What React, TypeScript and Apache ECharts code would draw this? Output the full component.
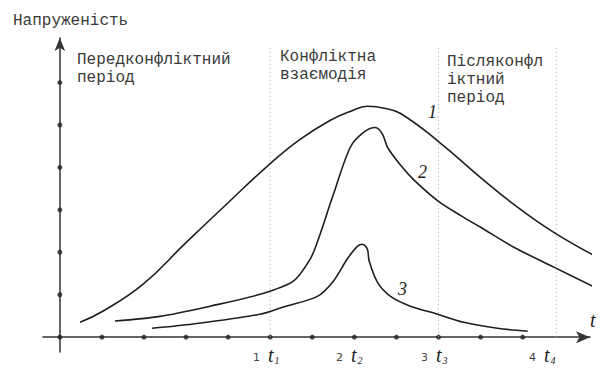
import React, { useEffect, useRef } from "react";
import * as echarts from "echarts";

// Curves in data units (x: time ticks, y: tension ticks)
const curve1: number[][] = [
  [0.48, 0.35], [1.02, 0.61], [1.98, 1.25], [2.98, 2.21], [3.98, 3.15],
  [5.0, 4.09], [5.71, 4.66], [6.43, 5.11], [6.9, 5.32], [7.31, 5.44],
  [7.74, 5.39], [8.1, 5.27], [9.0, 4.61], [10.0, 3.76], [10.79, 3.13],
  [11.74, 2.47], [12.86, 1.84],
];
const curve2: number[][] = [
  [1.31, 0.38], [2.38, 0.49], [3.57, 0.73], [4.76, 1.01], [5.55, 1.32],
  [5.95, 1.84], [6.12, 2.24], [6.5, 3.36], [6.9, 4.47], [7.21, 4.82],
  [7.5, 4.94], [7.67, 4.78], [7.79, 4.47], [8.1, 4.05], [8.4, 3.72],
  [9.0, 3.2], [9.52, 2.87], [10.0, 2.59], [10.79, 2.12], [11.74, 1.65],
  [12.67, 1.2],
];
const curve3: number[][] = [
  [2.19, 0.21], [3.17, 0.31], [4.76, 0.54], [5.31, 0.71], [6.12, 0.96],
  [6.5, 1.32], [6.83, 1.84], [7.07, 2.14], [7.19, 2.19], [7.31, 2.07],
  [7.35, 1.8], [7.55, 1.29], [7.86, 0.96], [8.33, 0.73], [8.98, 0.54],
  [9.6, 0.35], [10.4, 0.21], [11.12, 0.14],
];
const xTickValues = [0, 1, 2, 3, 4, 5, 6, 7, 8, 9, 10, 11];
const yTickValues = [1, 2, 3, 4, 5, 6];
const periodLines = [5, 9, 11.8];
const periodLineTop = 6.85;

const yAxisTitle = "Напруженість";
const periodTexts = [
  ["Передконфліктний", "період"],
  ["Конфліктна", "взаємодія"],
  ["Післяконфл", "іктний", "період"],
];
const curveNames = ["1", "2", "3"];
const pointNums = ["1", "2", "3", "4"];
const pointSubs = ["1", "2", "3", "4"];

export default function App() {
  const ref = useRef<HTMLDivElement>(null);
  useEffect(() => {
    if (!ref.current) return;
    const chart = echarts.init(ref.current, undefined, { renderer: "svg" });
    const ink = "#1e1e1e";
    const textInk = "#3a3a3a";
    const mono = "'Liberation Mono', monospace";
    const serif = "'Liberation Serif', serif";
    const curveLine = (data: number[][], smooth: number) => ({
      type: "line",
      data,
      smooth,
      showSymbol: false,
      clip: false,
      silent: true,
      lineStyle: { color: ink, width: 1.6 },
    });
    const periodPos = [
      { x: 77, y: 60 },
      { x: 280, y: 57 },
      { x: 447, y: 62 },
    ];
    const curveLabelPos = [
      { x: 428, y: 112 },
      { x: 418, y: 172 },
      { x: 398, y: 289 },
    ];
    const pointPos = [
      { n: 253, t: 268 },
      { n: 336, t: 351 },
      { n: 421, t: 436 },
      { n: 529, t: 544 },
    ];
    const graphics: any[] = [
      {
        type: "text",
        x: 13,
        y: 21,
        style: { text: yAxisTitle, font: `16px ${mono}`, fill: textInk, verticalAlign: "middle" },
      },
    ];
    periodTexts.forEach((lines, i) => {
      lines.forEach((ln, j) => {
        graphics.push({
          type: "text",
          x: periodPos[i].x,
          y: periodPos[i].y + j * 18,
          style: { text: ln, font: `16px ${mono}`, fill: textInk, verticalAlign: "middle" },
        });
      });
    });
    curveNames.forEach((c, i) => {
      graphics.push({
        type: "text",
        x: curveLabelPos[i].x,
        y: curveLabelPos[i].y,
        style: { text: c, font: `italic 18px ${serif}`, fill: ink, verticalAlign: "middle" },
      });
    });
    pointNums.forEach((n, i) => {
      graphics.push({
        type: "text",
        x: pointPos[i].n,
        y: 357,
        style: { text: n, font: `11px 'DejaVu Sans', sans-serif`, fill: "#444", verticalAlign: "middle" },
      });
      graphics.push({
        type: "text",
        x: pointPos[i].t,
        y: 355,
        style: {
          text: `{t|t}{s|${pointSubs[i]}}`,
          verticalAlign: "middle",
          rich: {
            t: { font: `italic 20px ${serif}`, fill: ink },
            s: { font: `italic 10px ${serif}`, fill: ink, padding: [10, 0, 0, 1] },
          },
        },
      });
    });
    graphics.push({
      type: "text",
      x: 590,
      y: 320,
      style: { text: "t", font: `italic 20px ${serif}`, fill: ink, verticalAlign: "middle" },
    });

    chart.setOption({
      animation: false,
      grid: { left: 43, right: 11, top: 38, bottom: 16 },
      xAxis: {
        type: "value",
        min: -0.4,
        max: 12.6,
        axisLine: {
          onZero: true,
          symbol: ["none", "arrow"],
          symbolSize: [9, 14],
          lineStyle: { color: "#333", width: 1.5 },
        },
        axisTick: { show: false },
        axisLabel: { show: false },
        splitLine: { show: false },
      },
      yAxis: {
        type: "value",
        min: -0.35,
        max: 7.05,
        axisLine: {
          show: true,
          onZero: true,
          symbol: ["none", "arrow"],
          symbolSize: [8, 13],
          lineStyle: { color: "#333", width: 1.5 },
        },
        axisTick: { show: false },
        axisLabel: { show: false },
        splitLine: { show: false },
      },
      graphic: graphics,
      series: [
        ...periodLines.map((t) => ({
          type: "line",
          data: [[t, 0], [t, periodLineTop]],
          showSymbol: false,
          silent: true,
          lineStyle: { color: "#aaa", width: 1, type: [1, 3] },
        })),
        curveLine(curve1, 0.45),
        curveLine(curve2, 0.3),
        curveLine(curve3, 0.3),
        {
          type: "scatter",
          data: [
            ...xTickValues.map((v) => [v, 0]),
            ...yTickValues.map((v) => [0, v]),
          ],
          symbolSize: 5,
          silent: true,
          itemStyle: { color: "#222" },
        },
      ],
    });
    return () => chart.dispose();
  }, []);
  return (
    <div
      ref={ref}
      style={{ position: "fixed", left: 0, top: 0, width: 601, height: 368, background: "#fff" }}
    />
  );
}
